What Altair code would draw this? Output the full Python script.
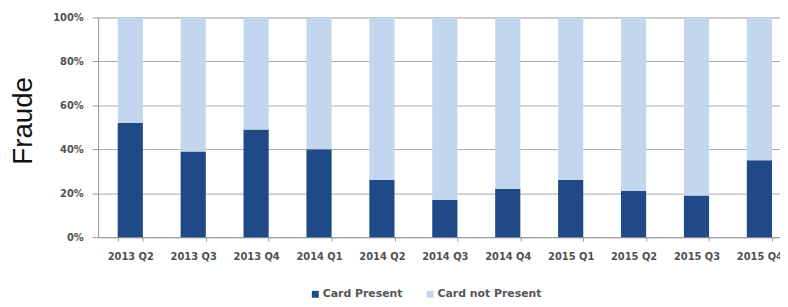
import altair as alt
import pandas as pd

quarters = ["2013 Q2", "2013 Q3", "2013 Q4", "2014 Q1", "2014 Q2", "2014 Q3",
            "2014 Q4", "2015 Q1", "2015 Q2", "2015 Q3", "2015 Q4"]
card_present = [52, 39, 49, 40, 26, 17, 22, 26, 21, 19, 35]
card_not_present = [100 - v for v in card_present]
series = ["Card Present", "Card not Present"]
colors = ["#1F4A85", "#C2D6EE"]

rows = []
for q, a, b in zip(quarters, card_present, card_not_present):
    rows.append({"quarter": q, "type": series[0], "value": a, "ord": 0})
    rows.append({"quarter": q, "type": series[1], "value": b, "ord": 1})
df = pd.DataFrame(rows)

chart = alt.Chart(df).mark_bar().encode(
    x=alt.X("quarter:N", sort=quarters, title=None,
            scale=alt.Scale(paddingInner=0.6, paddingOuter=0.22, align=0.71),
            axis=alt.Axis(labelAngle=0, labelFont="DejaVu Sans", labelFontSize=10,
                          labelFontWeight="bold",
                          labelColor="#505050", labelPadding=11, tickBand="extent",
                          tickSize=4, tickColor="#999", domainColor="#999",
                          grid=False)),
    y=alt.Y("value:Q", stack="zero",
            scale=alt.Scale(domain=[0, 100], nice=False),
            title="Fraude",
            axis=alt.Axis(values=[0, 20, 40, 60, 80, 100],
                          labelExpr="datum.value + '%'",
                          labelFont="DejaVu Sans", labelFontSize=10,
                          labelFontWeight="bold",
                          labelColor="#505050", labelPadding=9,
                          tickSize=6, tickColor="#999", domainColor="#999",
                          gridColor="#A8A8A8", gridWidth=1,
                          titleFont="Liberation Sans", titleFontSize=28,
                          titleFontWeight="normal", titleColor="#111",
                          titleAngle=270, titleAlign="center",
                          titleBaseline="middle", titleX=-75, titleY=104)),
    color=alt.Color("type:N", sort=series,
                    scale=alt.Scale(domain=series, range=colors),
                    legend=alt.Legend(title=None, orient="none", legendX=214,
                                      legendY=274, direction="horizontal",
                                      symbolType="square", symbolSize=49,
                                      symbolStrokeWidth=0,
                                      labelFont="DejaVu Sans", labelFontSize=11,
                                      labelFontWeight="bold",
                                      labelColor="#555", labelOffset=2,
                                      columnPadding=22)),
    order=alt.Order("ord:Q"),
).properties(
    width=689, height=222,
    autosize=alt.AutoSizeParams(type="none"),
    padding={"left": 91, "top": 8, "right": 0, "bottom": 68},
).configure_view(stroke=None).configure(background="white")

chart.save("out.html", embed_options={"renderer": "svg", "actions": False})
